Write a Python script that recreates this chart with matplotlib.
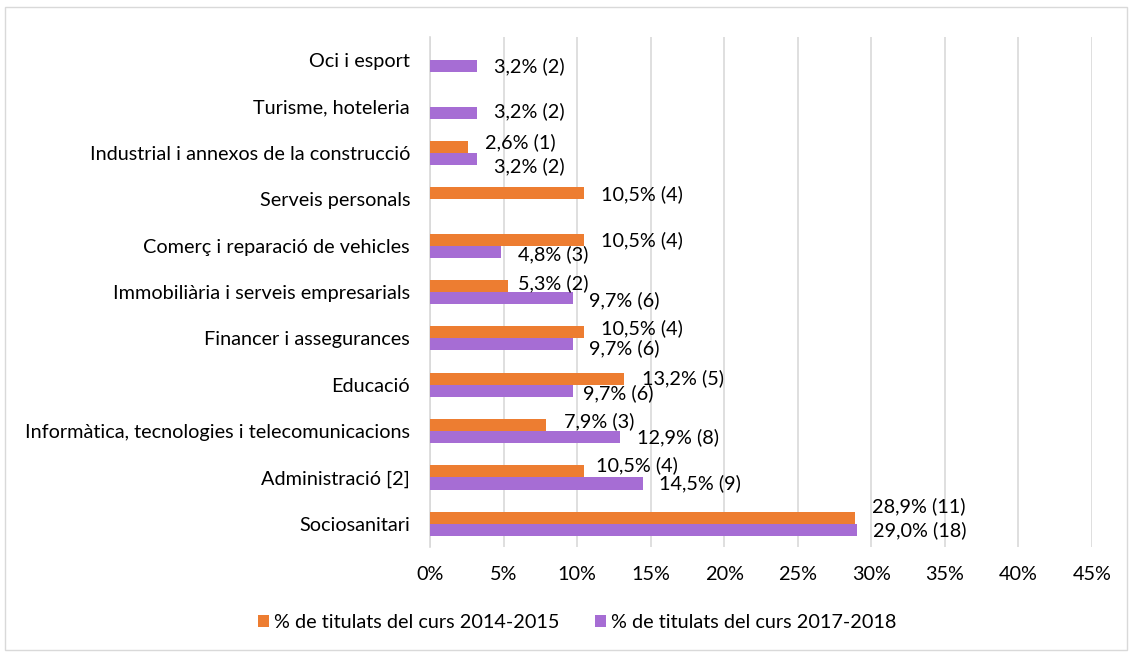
import matplotlib
matplotlib.use("Agg")
import matplotlib.pyplot as plt
from matplotlib.patches import Rectangle, Patch
import numpy as np

categories = [
    "Oci i esport",
    "Turisme, hoteleria",
    "Industrial i annexos de la construcció",
    "Serveis personals",
    "Comerç i reparació de vehicles",
    "Immobiliària i serveis empresarials",
    "Financer i assegurances",
    "Educació",
    "Informàtica, tecnologies i telecomunicacions",
    "Administració [2]",
    "Sociosanitari",
]
pct_2014 = [0.0, 0.0, 2.6, 10.5, 10.5, 5.3, 10.5, 13.2, 7.9, 10.5, 28.9]
n_2014 = [0, 0, 1, 4, 4, 2, 4, 5, 3, 4, 11]
pct_2017 = [3.2, 3.2, 3.2, 0.0, 4.8, 9.7, 9.7, 9.7, 12.9, 14.5, 29.0]
n_2017 = [2, 2, 2, 0, 3, 6, 6, 6, 8, 9, 18]
series_names = ["% de titulats del curs 2014-2015", "% de titulats del curs 2017-2018"]
xticks = [0, 5, 10, 15, 20, 25, 30, 35, 40, 45]

# label placement tweaks (pixels): dx from bar end, dy (down positive)
dx_2014 = [17, 17, 17, 17, 17, 10, 17, 18, 18, 12, 17]
dy_2014 = [0, 0, -5, 1, 1, -3, -4, 0, -4, -6, -12]
dx_2017 = [17, 17, 17, 17, 17, 16, 16, 10, 17, 16, 16]
dy_2017 = [0, -1, 7, 0, 3, 2, 4, 2, 0, 0, 0]

ORANGE = "#ED7D31"
PURPLE = "#A66DD4"
FONT = "Lato"
FS = 14.3

fig = plt.figure(figsize=(11.32, 6.55), dpi=100)
fig.patches.append(Rectangle((5 / 1132, 5 / 655), 1122 / 1132, 643 / 655,
                             transform=fig.transFigure, fill=False,
                             edgecolor="#D9D9D9", linewidth=1.0))
ax = fig.add_axes([430 / 1132, 1 - 547 / 655, 662 / 1132, 510 / 655])

y = np.arange(len(categories))
h = 0.26
ax.barh(y - h / 2, pct_2014, height=h, color=ORANGE, zorder=3)
ax.barh(y + h / 2, pct_2017, height=h, color=PURPLE, zorder=3)

for i in range(len(categories)):
    if pct_2014[i] > 0:
        s = f"{pct_2014[i]:.1f}".replace(".", ",") + f"% ({n_2014[i]})"
        ax.annotate(s, (pct_2014[i], y[i] - h / 2), xytext=(dx_2014[i], -dy_2014[i]),
                    textcoords="offset pixels", ha="left", va="center",
                    fontsize=FS, family=FONT, color="#000000", zorder=4)
    if pct_2017[i] > 0:
        s = f"{pct_2017[i]:.1f}".replace(".", ",") + f"% ({n_2017[i]})"
        ax.annotate(s, (pct_2017[i], y[i] + h / 2), xytext=(dx_2017[i], -dy_2017[i]),
                    textcoords="offset pixels", ha="left", va="center",
                    fontsize=FS, family=FONT, color="#000000", zorder=4)

ax.set_xlim(0, 45)
ax.set_ylim(len(categories) - 0.5, -0.5)
ax.set_xticks(xticks)
ax.set_xticklabels([f"{t}%" for t in xticks], fontsize=FS, family=FONT)
ax.set_yticks(y)
ax.set_yticklabels(categories, fontsize=FS, family=FONT)
ax.tick_params(axis="both", length=0, colors="#000000")
ax.tick_params(axis="y", pad=14.4)
ax.tick_params(axis="x", pad=14)
ax.xaxis.grid(True, color="#D9D9D9", linewidth=1.2, zorder=0)
for sp in ["top", "right", "bottom"]:
    ax.spines[sp].set_visible(False)
ax.spines["left"].set_color("#D9D9D9")
ax.spines["left"].set_linewidth(1.2)

handles = [Patch(facecolor=ORANGE), Patch(facecolor=PURPLE)]
fig.legend(handles, series_names, loc="center", bbox_to_anchor=(577 / 1132, 1 - 623 / 655),
           ncol=2, frameon=False, prop={"family": FONT, "size": FS},
           handlelength=0.55, handleheight=0.55, handletextpad=0.25, columnspacing=1.8)

fig.savefig("out.png", dpi=100)
